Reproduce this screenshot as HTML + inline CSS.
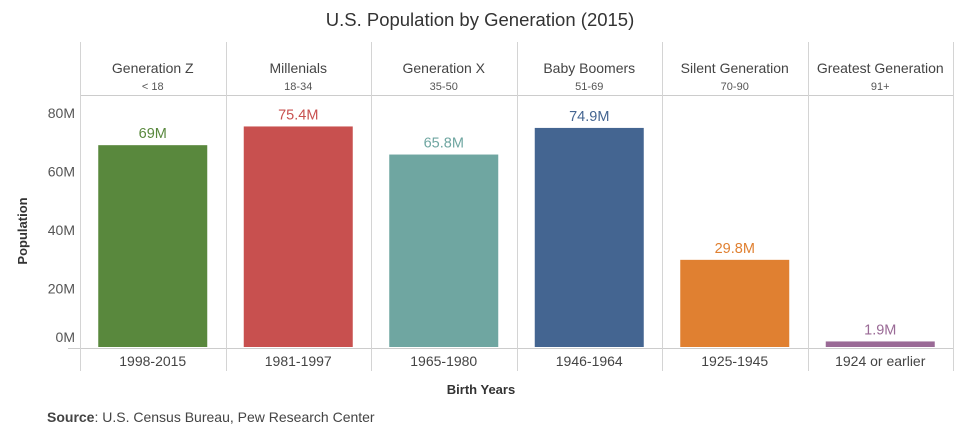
<!DOCTYPE html>
<html><head><meta charset="utf-8"><style>
body{margin:0;background:#fff;font-family:"Liberation Sans",sans-serif;}
svg text{font-family:"Liberation Sans",sans-serif;}
</style></head><body>
<svg id="chart" width="960" height="433" viewBox="0 0 960 433">
<text x="480" y="26" text-anchor="middle" font-size="18.5" fill="#333">U.S. Population by Generation (2015)</text>
<text transform="translate(27,231) rotate(-90)" text-anchor="middle" font-size="13" font-weight="bold" fill="#333">Population</text>
<text x="481" y="394" text-anchor="middle" font-size="13" font-weight="bold" fill="#333">Birth Years</text>
<text x="47" y="422" font-size="14" fill="#444"><tspan font-weight="bold">Source</tspan>:  U.S. Census Bureau, Pew Research Center</text>
<g id="grid"></g><g id="bars"></g>
</svg>
<script>
const categories=["Generation Z","Millenials","Generation X","Baby Boomers","Silent Generation","Greatest Generation"];
const ageRanges=["< 18","18-34","35-50","51-69","70-90","91+"];
const birthYears=["1998-2015","1981-1997","1965-1980","1946-1964","1925-1945","1924 or earlier"];
const values=[69,75.4,65.8,74.9,29.8,1.9];
const valueLabels=["69M","75.4M","65.8M","74.9M","29.8M","1.9M"];
const colors=["#59883d","#c8504f","#6fa6a1","#446591","#e08031","#9a6a96"];
const yTicks=[0,20,40,60,80];
const yTickLabels=["0M","20M","40M","60M","80M"];

const NS="http://www.w3.org/2000/svg";
const left=80,right=953,base=347,colW=(right-left)/categories.length;
const y=v=>base-v*2.925;
const x=i=>left+i*colW;
function mk(t,a,p){const e=document.createElementNS(NS,t);for(const k in a)e.setAttribute(k,a[k]);p.appendChild(e);return e;}
const grid=document.getElementById('grid'),bars=document.getElementById('bars');
mk('line',{x1:left,x2:right,y1:95.5,y2:95.5,stroke:'#ccc'},grid);
mk('line',{x1:left-12,x2:right,y1:348.5,y2:348.5,stroke:'#ccc'},grid);
for(let i=0;i<=categories.length;i++){
  const l=mk('line',{x1:Math.round(x(i))+0.5,x2:Math.round(x(i))+0.5,y1:42,y2:371,stroke:'#d4d4d4'},grid);
  
  
}
yTicks.forEach((v,i)=>{
  const t=mk('text',{x:75,y:(v===0?y(v)-10:y(v))+5,'text-anchor':'end','font-size':14,fill:'#555'},grid);
  t.textContent=yTickLabels[i];
  
  
});
categories.forEach((c,i)=>{
  const cx=x(i)+colW/2;
  const h=mk('text',{x:cx,y:73,'text-anchor':'middle','font-size':14,fill:'#444'},grid);
  h.textContent=c;
  
  
  const a=mk('text',{x:cx,y:90,'text-anchor':'middle','font-size':11,fill:'#555'},grid);
  a.textContent=ageRanges[i];
  
  
  const by=mk('text',{x:cx,y:366,'text-anchor':'middle','font-size':14,fill:'#444'},grid);
  by.textContent=birthYears[i];
  
  
  const bw=109;
  const r=mk('rect',{x:cx-bw/2,y:y(values[i]),width:bw,height:base-y(values[i]),fill:colors[i]},bars);
  
  
  const vl=mk('text',{x:cx,y:y(values[i])-7,'text-anchor':'middle','font-size':14.5,fill:colors[i]},bars);
  vl.textContent=valueLabels[i];
  
  
});
</script>
</body></html>
